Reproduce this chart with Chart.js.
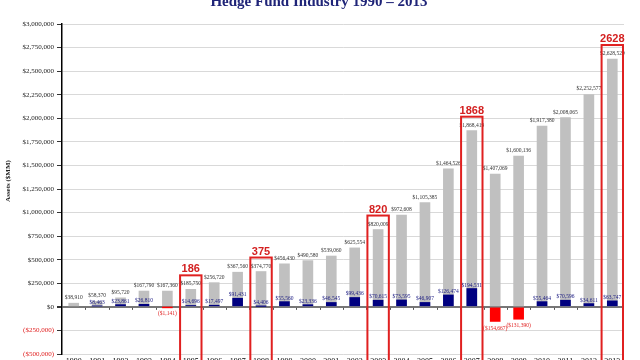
<!DOCTYPE html>
<html>
<head>
<meta charset="utf-8">
<script src="https://cdn.jsdelivr.net/npm/chart.js@4"></script>
<style>
html,body{margin:0;padding:0;background:#fff;}
#wrap{position:relative;width:640px;height:360px;overflow:hidden;}
#c{position:absolute;left:0;top:0;}
</style>
</head>
<body>
<div id="wrap"><canvas id="c" width="640" height="380"></canvas></div>
<script>
const years = ['1990','1991','1992','1993','1994','1995','1996','1997','1998','1999','2000','2001','2002','2003','2004','2005','2006','2007','2008','2009','2010','2011','2012','2013'];
const assets = [38910,58370,95720,167790,167360,185750,256720,367560,374770,456430,490580,539060,625554,820009,972608,1105385,1464526,1868419,1407069,1600136,1917380,2008065,2252577,2628520];
const flows = [null,8463,23861,26810,-1141,14696,17497,91431,4406,55560,23336,46545,99436,70615,73595,46907,126474,194531,-154667,-131390,55464,70596,34611,63747];
const highlightYears = ['1995','1998','2003','2007','2013'];
const highlightLabels = ['186','375','820','1868','2628'];
const yTicks = {min:-500000, max:3000000, step:250000};

const SERIF = "'Liberation Serif','Times New Roman',serif";
function money(v){
  if (v < 0) return '($' + Math.abs(v).toLocaleString('en-US') + ')';
  return '$' + v.toLocaleString('en-US');
}

const deco = {
  id:'deco',
  afterDatasetsDraw(chart){
    const ctx = chart.ctx, x = chart.scales.x, y = chart.scales.y, ca = chart.chartArea;
    const y0 = y.getPixelForValue(0);
    ctx.save();
    ctx.fillStyle = '#555';
    for (let i = 1; i < years.length; i++){
      const px = Math.round((x.getPixelForValue(i-1) + x.getPixelForValue(i))/2);
      ctx.fillRect(px, y0+1, 1, 2);
    }
    ctx.textAlign = 'center';
    ctx.font = '5.5px ' + SERIF;
    assets.forEach((v,i)=>{
      const px = x.getPixelForValue(i);
      ctx.fillStyle = '#333';
      ctx.textBaseline = 'alphabetic';
      ctx.fillText(money(v), px, y.getPixelForValue(v) - 4);
    });
    flows.forEach((v,i)=>{
      if (v === null) return;
      const px = x.getPixelForValue(i);
      if (v >= 0){
        ctx.fillStyle = '#1a1a80';
        ctx.textBaseline = 'alphabetic';
        ctx.fillText(money(v), px, y.getPixelForValue(v) - 2);
      } else {
        ctx.fillStyle = '#e02020';
        ctx.textBaseline = 'top';
        ctx.fillText(money(v), px, y.getPixelForValue(v) + 4);
      }
    });
    const cw = x.getPixelForValue(1) - x.getPixelForValue(0);
    highlightYears.forEach((yr,k)=>{
      const i = years.indexOf(yr);
      const px = x.getPixelForValue(i);
      const top = y.getPixelForValue(assets[i]) - 14;
      ctx.strokeStyle = '#e02020';
      ctx.lineWidth = 2;
      ctx.strokeRect(px - cw/2 + 1, top, cw - 2, ca.bottom + 30 - top);
      ctx.fillStyle = '#d42020';
      ctx.font = 'bold 11px "Liberation Sans",Arial,sans-serif';
      ctx.textBaseline = 'alphabetic';
      ctx.fillText(highlightLabels[k], px, top - 3);
      ctx.font = '5.5px ' + SERIF;
    });
    ctx.fillStyle = '#1f2478';
    ctx.font = 'bold 15px ' + SERIF;
    ctx.textBaseline = 'alphabetic';
    ctx.fillText('Hedge Fund Industry 1990 \u2013 2013', 319, 6);
    ctx.save();
    ctx.translate(8, 181);
    ctx.rotate(-Math.PI/2);
    ctx.fillStyle = '#222';
    ctx.font = 'bold 7px ' + SERIF;
    ctx.textBaseline = 'middle';
    ctx.fillText('Assets ($MM)', 0, 0);
    ctx.restore();
    ctx.restore();
  }
};

new Chart(document.getElementById('c'), {
  type:'bar',
  data:{
    labels: years,
    datasets:[
      {label:'Net flows', data: flows, order:1, grouped:false,
       backgroundColor: flows.map(v => v !== null && v < 0 ? '#ff0000' : '#000080'),
       barThickness:10},
      {label:'Assets', data: assets, order:2, grouped:false,
       backgroundColor:'#c0c0c0', barThickness:10}
    ]
  },
  options:{
    responsive:false, animation:false,
    layout:{padding:{top:24,right:16,left:0,bottom:0}},
    plugins:{legend:{display:false}, tooltip:{enabled:false}, title:{display:false}},
    scales:{
      x:{
        grid:{display:false, drawTicks:false},
        border:{display:false},
        ticks:{font:{family:SERIF,size:8}, color:'#000', padding:3, maxRotation:0, autoSkip:false},
        afterFit(s){ s.height = 26; }
      },
      y:{
        min:yTicks.min, max:yTicks.max,
        ticks:{stepSize:yTicks.step, font:{family:SERIF,size:7}, padding:3,
          color: c => c.tick.value < 0 ? '#e02020' : '#222',
          callback: v => money(v)},
        grid:{
          color: c => c.tick && c.tick.value === 0 ? '#777' : '#d9d9d9',
          lineWidth: c => c.tick && c.tick.value === 0 ? 2 : 1,
          tickColor:'#333', tickLength:5
        },
        border:{display:true, color:'#000', width:1.5},
        title:{display:false},
        afterFit(s){ s.width = 62; }
      }
    }
  },
  plugins:[deco]
});
</script>
</body>
</html>
